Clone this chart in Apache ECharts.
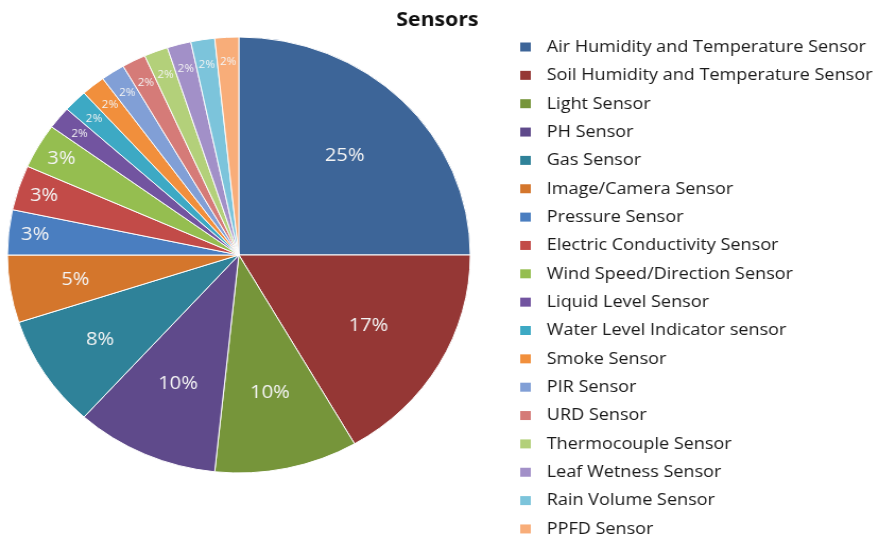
<!DOCTYPE html>
<html>
<head>
<meta charset="utf-8">
<script src="https://cdn.jsdelivr.net/npm/echarts@6/dist/echarts.min.js"></script>
<style>
  html, body { margin: 0; padding: 0; background: #fff; overflow: hidden; }
  #wrap { width: 879px; height: 541px; overflow: hidden; }
  /* chart is drawn slightly narrower and widened to the page width */
  #chart { width: 828px; height: 541px; transform: scaleX(1.0616); transform-origin: 0 0; }
</style>
</head>
<body>
<div id="wrap"><div id="chart"></div></div>
<script>
const sensorNames = [
  'Air Humidity and Temperature Sensor',
  'Soil Humidity and Temperature Sensor',
  'Light Sensor',
  'PH Sensor',
  'Gas Sensor',
  'Image/Camera Sensor',
  'Pressure Sensor',
  'Electric Conductivity Sensor',
  'Wind Speed/Direction Sensor',
  'Liquid Level Sensor',
  'Water Level Indicator sensor',
  'Smoke Sensor',
  'PIR Sensor',
  'URD Sensor',
  'Thermocouple Sensor',
  'Leaf Wetness Sensor',
  'Rain Volume Sensor',
  'PPFD Sensor'
];
// number of studies using each sensor type
const sensorCounts = [15, 10, 6, 6, 5, 3, 2, 2, 2, 1, 1, 1, 1, 1, 1, 1, 1, 1];

const sliceColors = [
  '#3D6598', '#953735', '#76953A', '#5F4A8B', '#2F8299', '#D4762C',
  '#4A7EC0', '#C24B48', '#95BE50', '#7254A0', '#3DA9C4', '#F18F3C',
  '#819FD6', '#D57B78', '#B3D07A', '#A290C8', '#7CC4DB', '#F8AD79'
];

// label ring each slice's percentage sits on: 0 = inner, 1 = middle, 2 = outer
const labelRing = [0, 0, 0, 0, 1, 1, 2, 2, 2, 2, 2, 2, 2, 2, 2, 2, 2, 2];

const center = [225, 255];
const outerR = 218;
const ringInner = [58, 88, 162];

const chart = echarts.init(document.getElementById('chart'), null, { renderer: 'canvas' });

const pctLabel = p => Math.round(p.percent) + '%';

const series = [{
  type: 'pie',
  center: center,
  radius: [0, outerR],
  startAngle: 90,
  clockwise: true,
  silent: true,
  label: { show: false },
  labelLine: { show: false },
  itemStyle: { borderColor: '#ffffff', borderWidth: 1 },
  data: sensorNames.map((n, i) => ({
    name: n, value: sensorCounts[i], itemStyle: { color: sliceColors[i] }
  }))
}];

ringInner.forEach((r0, g) => {
  series.push({
    type: 'pie',
    center: center,
    radius: [r0, outerR],
    startAngle: 90,
    clockwise: true,
    silent: true,
    z: 3,
    itemStyle: { color: 'rgba(0,0,0,0)', borderWidth: 0 },
    labelLine: { show: false },
    label: {
      position: 'inside',
      formatter: pctLabel,
      color: '#f4f4f4',
      fontFamily: 'Open Sans',
      fontSize: 19
    },
    data: sensorNames.map((n, i) => ({
      name: n,
      value: sensorCounts[i],
      label: {
        show: labelRing[i] === g,
        fontSize: sensorCounts[i] === 1 ? 11 : 19
      }
    }))
  });
});

chart.setOption({
  animation: false,
  backgroundColor: '#ffffff',
  title: {
    text: 'Sensors',
    left: 407,
    top: 5,
    textAlign: 'center',
    textStyle: { fontFamily: 'Open Sans', fontWeight: 'bold', fontSize: 20, color: '#111' }
  },
  legend: {
    orient: 'vertical',
    left: 490,
    top: 38.5,
    height: 510,
    padding: 0,
    itemWidth: 10,
    itemHeight: 9,
    itemGap: 11.35,
    icon: 'rect',
    itemStyle: { borderWidth: 0 },
    selectedMode: false,
    data: sensorNames,
    textStyle: {
      fontFamily: 'Open Sans',
      fontSize: 17,
      color: '#1a1a1a',
      padding: [0, 0, 0, 10],
      lineHeight: 17
    }
  },
  series: series
});
</script>
</body>
</html>
